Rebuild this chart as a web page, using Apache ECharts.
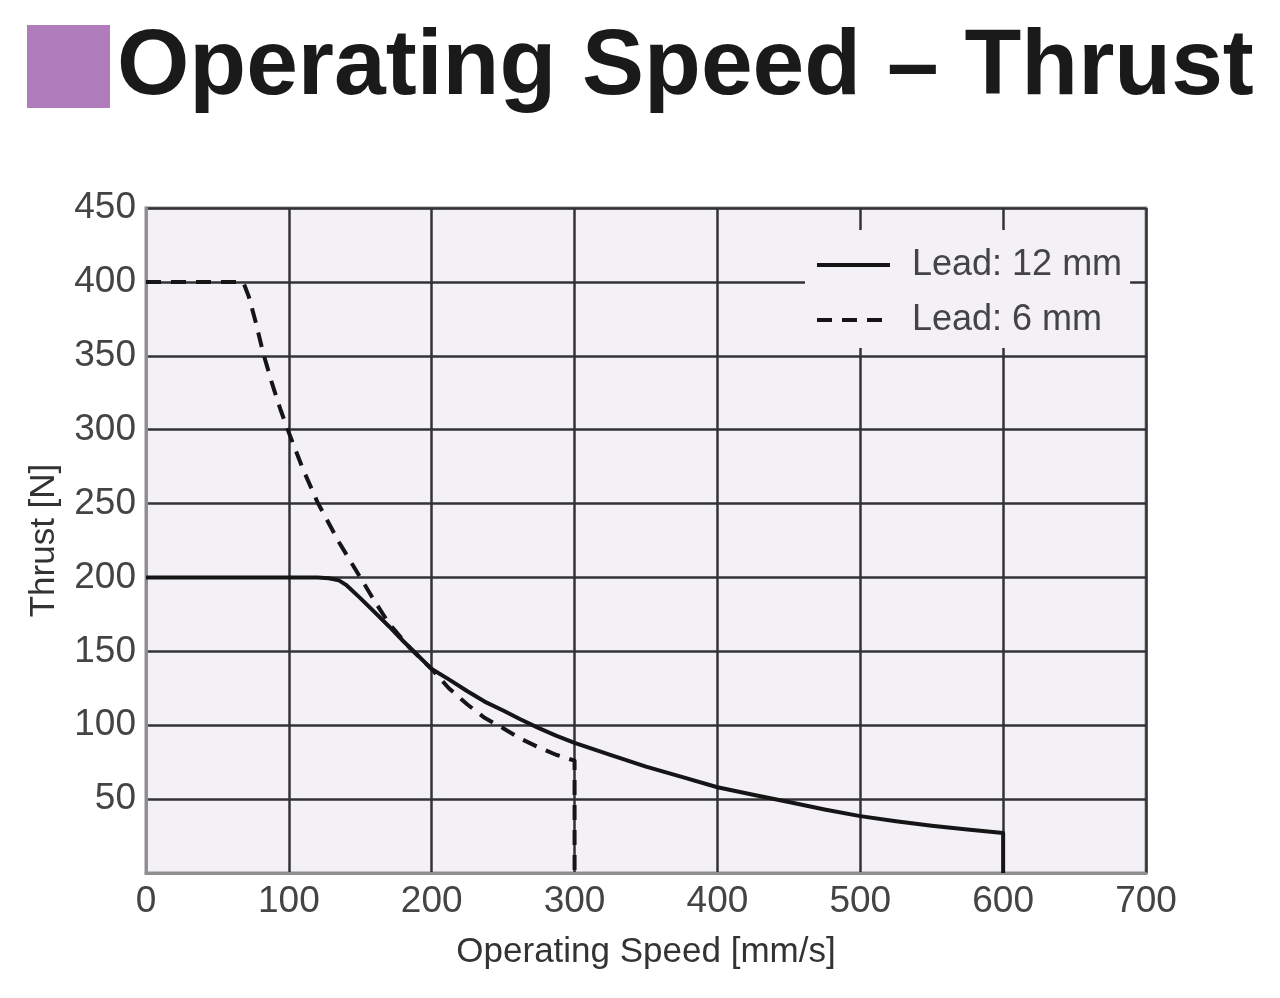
<!DOCTYPE html>
<html>
<head>
<meta charset="utf-8">
<script src="https://cdn.jsdelivr.net/npm/echarts@6/dist/echarts.min.js"></script>
<style>html,body{margin:0;padding:0;background:#fff;}#c{width:1280px;height:998px;}</style>
</head>
<body>
<div id="c"></div>
<script>
const titleText = 'Operating Speed – Thrust';
const xAxisName = 'Operating Speed [mm/s]';
const yAxisName = 'Thrust [N]';
const seriesNames = ['Lead: 12 mm', 'Lead: 6 mm'];
const lead12 = [[0,200],[120,200],[128,199.5],[135,198],[140,195],[150,186],[160,176.5],[170,167],[180,157],[190,147.5],[200,138],[212,131],[225,123],[237,116],[250,110],[262,104],[275,98],[287,93],[300,88],[325,80],[350,72],[375,65],[400,58],[425,53],[450,48],[475,43],[500,38.5],[525,35],[550,32],[575,29.5],[600,27],[600,0]];
const lead6 = [[0,400],[68,400],[72,390],[77,372],[82,352],[88,332],[94,314],[100,298],[110,273],[120,251],[135,224],[150,200],[160,184],[170,169],[185,152],[200,138],[212,125],[225,114],[237,105],[250,98],[262,91],[275,85],[287,80],[300,76],[300,0]];

const FONT = '"Liberation Sans Narrow", "Liberation Sans", Arial, sans-serif';
const chart = echarts.init(document.getElementById('c'), null, {renderer: 'canvas'});
chart.setOption({
  animation: false,
  backgroundColor: '#ffffff',
  graphic: [
    {type: 'rect', left: 27, top: 25, shape: {width: 83, height: 83}, style: {fill: '#b07cbb'}},
    {type: 'text', left: 117, top: 22, style: {text: titleText, font: 'bold 93px "Liberation Sans", Arial, sans-serif', fill: '#1a1a1a'}}
  ],
  grid: {left: 146, top: 208, right: 134, bottom: 125, show: true, backgroundColor: '#f3f0f6', borderColor: '#8f8f8f', borderWidth: 3},
  legend: {
    orient: 'vertical', left: 805, top: 230,
    padding: [15, 8, 8, 10],
    backgroundColor: '#f3f0f6',
    itemWidth: 73, itemHeight: 14, itemGap: 15,
    itemStyle: {color: 'transparent', borderColor: 'transparent', borderWidth: 0},
    lineStyle: {width: 4},
    textStyle: {fontFamily: FONT, fontSize: 36, color: '#444', lineHeight: 40, padding: [0, 0, 0, 17]},
    data: seriesNames
  },
  xAxis: {
    type: 'value', min: 0, max: 700, interval: 100,
    name: xAxisName, nameLocation: 'middle', nameGap: 62,
    nameTextStyle: {fontFamily: FONT, fontSize: 35, color: '#333'},
    axisLine: {show: true, lineStyle: {color: '#8f8f8f', width: 3}},
    axisTick: {show: false},
    axisLabel: {fontFamily: FONT, fontSize: 37, color: '#444', margin: 10},
    splitLine: {show: true, lineStyle: {color: '#333', width: 2.5}}
  },
  yAxis: {
    type: 'value', min: 0, max: 450, interval: 50,
    name: yAxisName, nameLocation: 'middle', nameGap: 84, nameRotate: 90,
    nameTextStyle: {fontFamily: FONT, fontSize: 35, color: '#333'},
    axisLine: {show: true, lineStyle: {color: '#8f8f8f', width: 3}},
    axisTick: {show: false},
    axisLabel: {fontFamily: FONT, fontSize: 37, color: '#444', margin: 10, formatter: v => v === 0 ? '' : String(v)},
    splitLine: {show: true, lineStyle: {color: '#333', width: 2.5}}
  },
  series: [
    {name: seriesNames[0], type: 'line', data: lead12, symbol: 'none', smooth: false, lineStyle: {color: '#151515', width: 4, join: 'round'}, itemStyle: {color: '#151515'}, z: 5},
    {name: seriesNames[1], type: 'line', data: lead6, symbol: 'none', smooth: false, lineStyle: {color: '#151515', width: 4, type: [15, 10], join: 'round'}, itemStyle: {color: '#151515'}, z: 5}
  ]
});
</script>
</body>
</html>
